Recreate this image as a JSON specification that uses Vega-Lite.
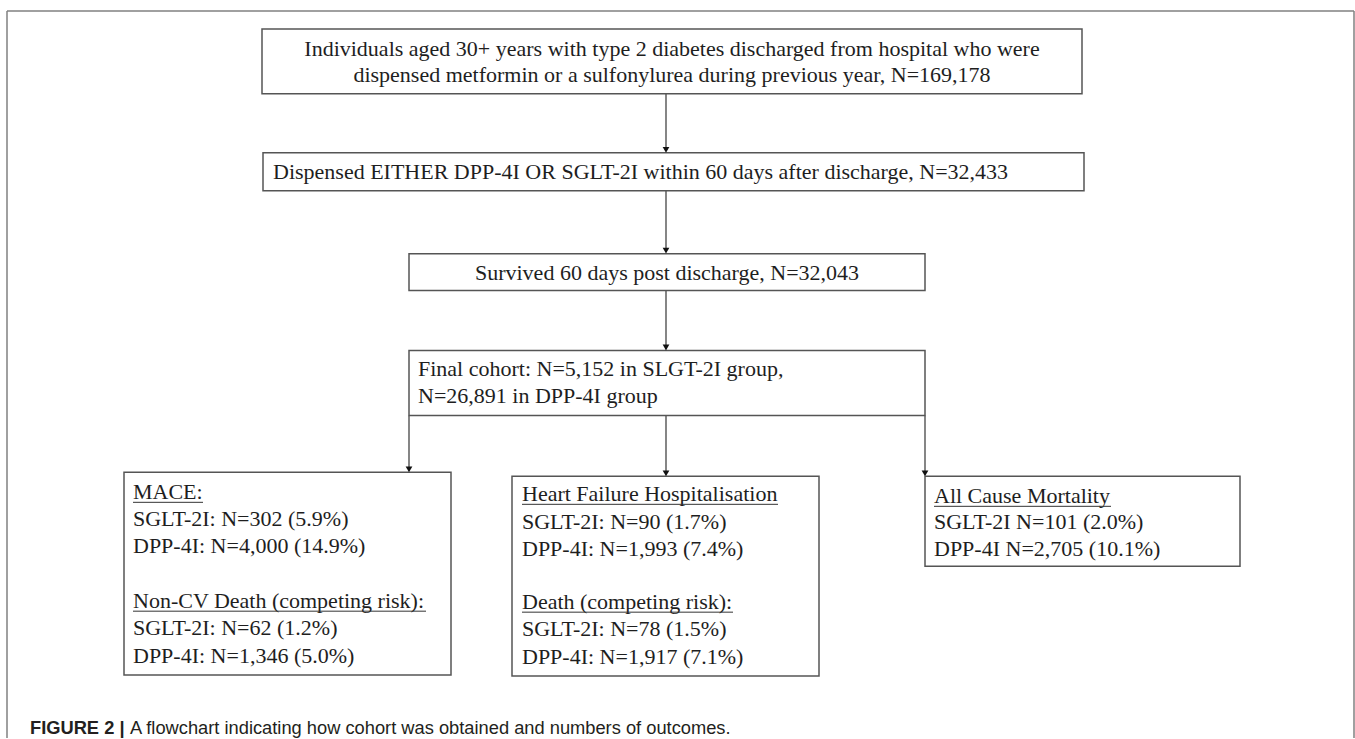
{
  "$schema": "https://vega.github.io/schema/vega-lite/v6.json",
  "width": 1355,
  "height": 739,
  "autosize": {"type": "fit", "contains": "padding"},
  "padding": 0,
  "background": "white",
  "config": {"view": {"stroke": null}},
  "datasets": {
    "frame": [
      {"x": 7, "y": 11, "x2": 7, "y2": 739},
      {"x": 7, "y": 11, "x2": 1354, "y2": 11},
      {"x": 1354, "y": 11, "x2": 1354, "y2": 739}
    ],
    "boxes": [
      {"id": "start", "x": 262, "y": 29, "x2": 1082, "y2": 94},
      {"id": "dispensed", "x": 263, "y": 153, "x2": 1084, "y2": 191},
      {"id": "survived", "x": 409, "y": 254, "x2": 925, "y2": 291},
      {"id": "final", "x": 409, "y": 351, "x2": 925, "y2": 416},
      {"id": "mace", "x": 124, "y": 473, "x2": 451, "y2": 676},
      {"id": "hf", "x": 512, "y": 477, "x2": 819, "y2": 677},
      {"id": "acm", "x": 925, "y": 477, "x2": 1240, "y2": 567}
    ],
    "links": [
      {"x": 666, "y": 94, "x2": 666, "y2": 150},
      {"x": 666, "y": 191, "x2": 666, "y2": 251},
      {"x": 666, "y": 291, "x2": 666, "y2": 348},
      {"x": 409, "y": 416, "x2": 409, "y2": 470},
      {"x": 666, "y": 416, "x2": 666, "y2": 474},
      {"x": 925, "y": 416, "x2": 925, "y2": 474}
    ],
    "heads": [
      {"x": 666, "y": 150},
      {"x": 666, "y": 251},
      {"x": 666, "y": 348},
      {"x": 409, "y": 470},
      {"x": 666, "y": 474},
      {"x": 925, "y": 474}
    ],
    "labels": [
      {"anchor": "center", "x": 672, "y": 49, "text": "Individuals aged 30+ years with type 2 diabetes discharged from hospital who were"},
      {"anchor": "center", "x": 672, "y": 75, "text": "dispensed metformin or a sulfonylurea during previous year, N=169,178"},
      {"anchor": "left", "x": 273, "y": 172, "text": "Dispensed EITHER DPP-4I OR SGLT-2I within 60 days after discharge, N=32,433"},
      {"anchor": "center", "x": 667, "y": 273, "text": "Survived 60 days post discharge, N=32,043"},
      {"anchor": "left", "x": 418, "y": 370, "text": "Final cohort: N=5,152 in SLGT-2I group,"},
      {"anchor": "left", "x": 418, "y": 397, "text": "N=26,891 in DPP-4I group"},
      {"anchor": "left", "x": 133, "y": 493, "text": "MACE:"},
      {"anchor": "left", "x": 133, "y": 520, "text": "SGLT-2I: N=302 (5.9%)"},
      {"anchor": "left", "x": 133, "y": 547, "text": "DPP-4I: N=4,000 (14.9%)"},
      {"anchor": "left", "x": 133, "y": 602, "text": "Non-CV Death (competing risk):"},
      {"anchor": "left", "x": 133, "y": 629, "text": "SGLT-2I: N=62 (1.2%)"},
      {"anchor": "left", "x": 133, "y": 657, "text": "DPP-4I: N=1,346 (5.0%)"},
      {"anchor": "left", "x": 522, "y": 495, "text": "Heart Failure Hospitalisation"},
      {"anchor": "left", "x": 522, "y": 523, "text": "SGLT-2I: N=90 (1.7%)"},
      {"anchor": "left", "x": 522, "y": 550, "text": "DPP-4I: N=1,993 (7.4%)"},
      {"anchor": "left", "x": 522, "y": 603, "text": "Death (competing risk):"},
      {"anchor": "left", "x": 522, "y": 630, "text": "SGLT-2I: N=78 (1.5%)"},
      {"anchor": "left", "x": 522, "y": 658, "text": "DPP-4I: N=1,917 (7.1%)"},
      {"anchor": "left", "x": 934, "y": 497, "text": "All Cause Mortality"},
      {"anchor": "left", "x": 934, "y": 523, "text": "SGLT-2I N=101 (2.0%)"},
      {"anchor": "left", "x": 934, "y": 550, "text": "DPP-4I N=2,705 (10.1%)"}
    ],
    "underlines": [
      {"x": 133, "x2": 203, "y": 503},
      {"x": 133, "x2": 426, "y": 612},
      {"x": 522, "x2": 778, "y": 505},
      {"x": 522, "x2": 733, "y": 613},
      {"x": 934, "x2": 1111, "y": 507}
    ],
    "caption": [
      {"part": "bold", "x": 30, "y": 730, "text": "FIGURE 2 |"},
      {"part": "normal", "x": 130, "y": 730, "text": "A flowchart indicating how cohort was obtained and numbers of outcomes."}
    ]
  },
  "layer": [
    {
      "data": {"name": "frame"},
      "mark": {"type": "rule", "color": "#808080", "strokeWidth": 1.5},
      "encoding": {
        "x": {"field": "x", "type": "quantitative", "scale": {"domain": [0, 1355], "nice": false, "zero": false}, "axis": null},
        "x2": {"field": "x2"},
        "y": {"field": "y", "type": "quantitative", "scale": {"domain": [0, 739], "reverse": true, "nice": false, "zero": false}, "axis": null},
        "y2": {"field": "y2"}
      }
    },
    {
      "data": {"name": "links"},
      "mark": {"type": "rule", "color": "#222222", "strokeWidth": 1.1},
      "encoding": {
        "x": {"field": "x", "type": "quantitative", "axis": null},
        "x2": {"field": "x2"},
        "y": {"field": "y", "type": "quantitative", "axis": null},
        "y2": {"field": "y2"}
      }
    },
    {
      "data": {"name": "boxes"},
      "mark": {"type": "rect", "fill": "white", "stroke": "#555555", "strokeWidth": 1.5},
      "encoding": {
        "x": {"field": "x", "type": "quantitative", "axis": null},
        "x2": {"field": "x2"},
        "y": {"field": "y", "type": "quantitative", "axis": null},
        "y2": {"field": "y2"}
      }
    },
    {
      "data": {"name": "heads"},
      "mark": {"type": "point", "shape": "triangle-down", "filled": true, "color": "#111111", "size": 45, "opacity": 1},
      "encoding": {
        "x": {"field": "x", "type": "quantitative", "axis": null},
        "y": {"field": "y", "type": "quantitative", "axis": null}
      }
    },
    {
      "data": {"name": "labels"},
      "transform": [{"filter": "datum.anchor == 'left'"}],
      "mark": {"type": "text", "align": "left", "baseline": "middle", "font": "Liberation Serif", "fontSize": 22, "color": "#1e1e1e"},
      "encoding": {
        "x": {"field": "x", "type": "quantitative", "axis": null},
        "y": {"field": "y", "type": "quantitative", "axis": null},
        "text": {"field": "text"}
      }
    },
    {
      "data": {"name": "labels"},
      "transform": [{"filter": "datum.anchor == 'center'"}],
      "mark": {"type": "text", "align": "center", "baseline": "middle", "font": "Liberation Serif", "fontSize": 22, "color": "#1e1e1e"},
      "encoding": {
        "x": {"field": "x", "type": "quantitative", "axis": null},
        "y": {"field": "y", "type": "quantitative", "axis": null},
        "text": {"field": "text"}
      }
    },
    {
      "data": {"name": "underlines"},
      "mark": {"type": "rule", "color": "#333333", "strokeWidth": 1},
      "encoding": {
        "x": {"field": "x", "type": "quantitative", "axis": null},
        "x2": {"field": "x2"},
        "y": {"field": "y", "type": "quantitative", "axis": null}
      }
    },
    {
      "data": {"name": "caption"},
      "transform": [{"filter": "datum.part == 'bold'"}],
      "mark": {"type": "text", "align": "left", "baseline": "middle", "font": "Liberation Sans", "fontSize": 18.3, "fontWeight": "bold", "color": "#231f20"},
      "encoding": {
        "x": {"field": "x", "type": "quantitative", "axis": null},
        "y": {"field": "y", "type": "quantitative", "axis": null},
        "text": {"field": "text"}
      }
    },
    {
      "data": {"name": "caption"},
      "transform": [{"filter": "datum.part == 'normal'"}],
      "mark": {"type": "text", "align": "left", "baseline": "middle", "font": "Liberation Sans", "fontSize": 18.3, "color": "#231f20"},
      "encoding": {
        "x": {"field": "x", "type": "quantitative", "axis": null},
        "y": {"field": "y", "type": "quantitative", "axis": null},
        "text": {"field": "text"}
      }
    }
  ]
}
